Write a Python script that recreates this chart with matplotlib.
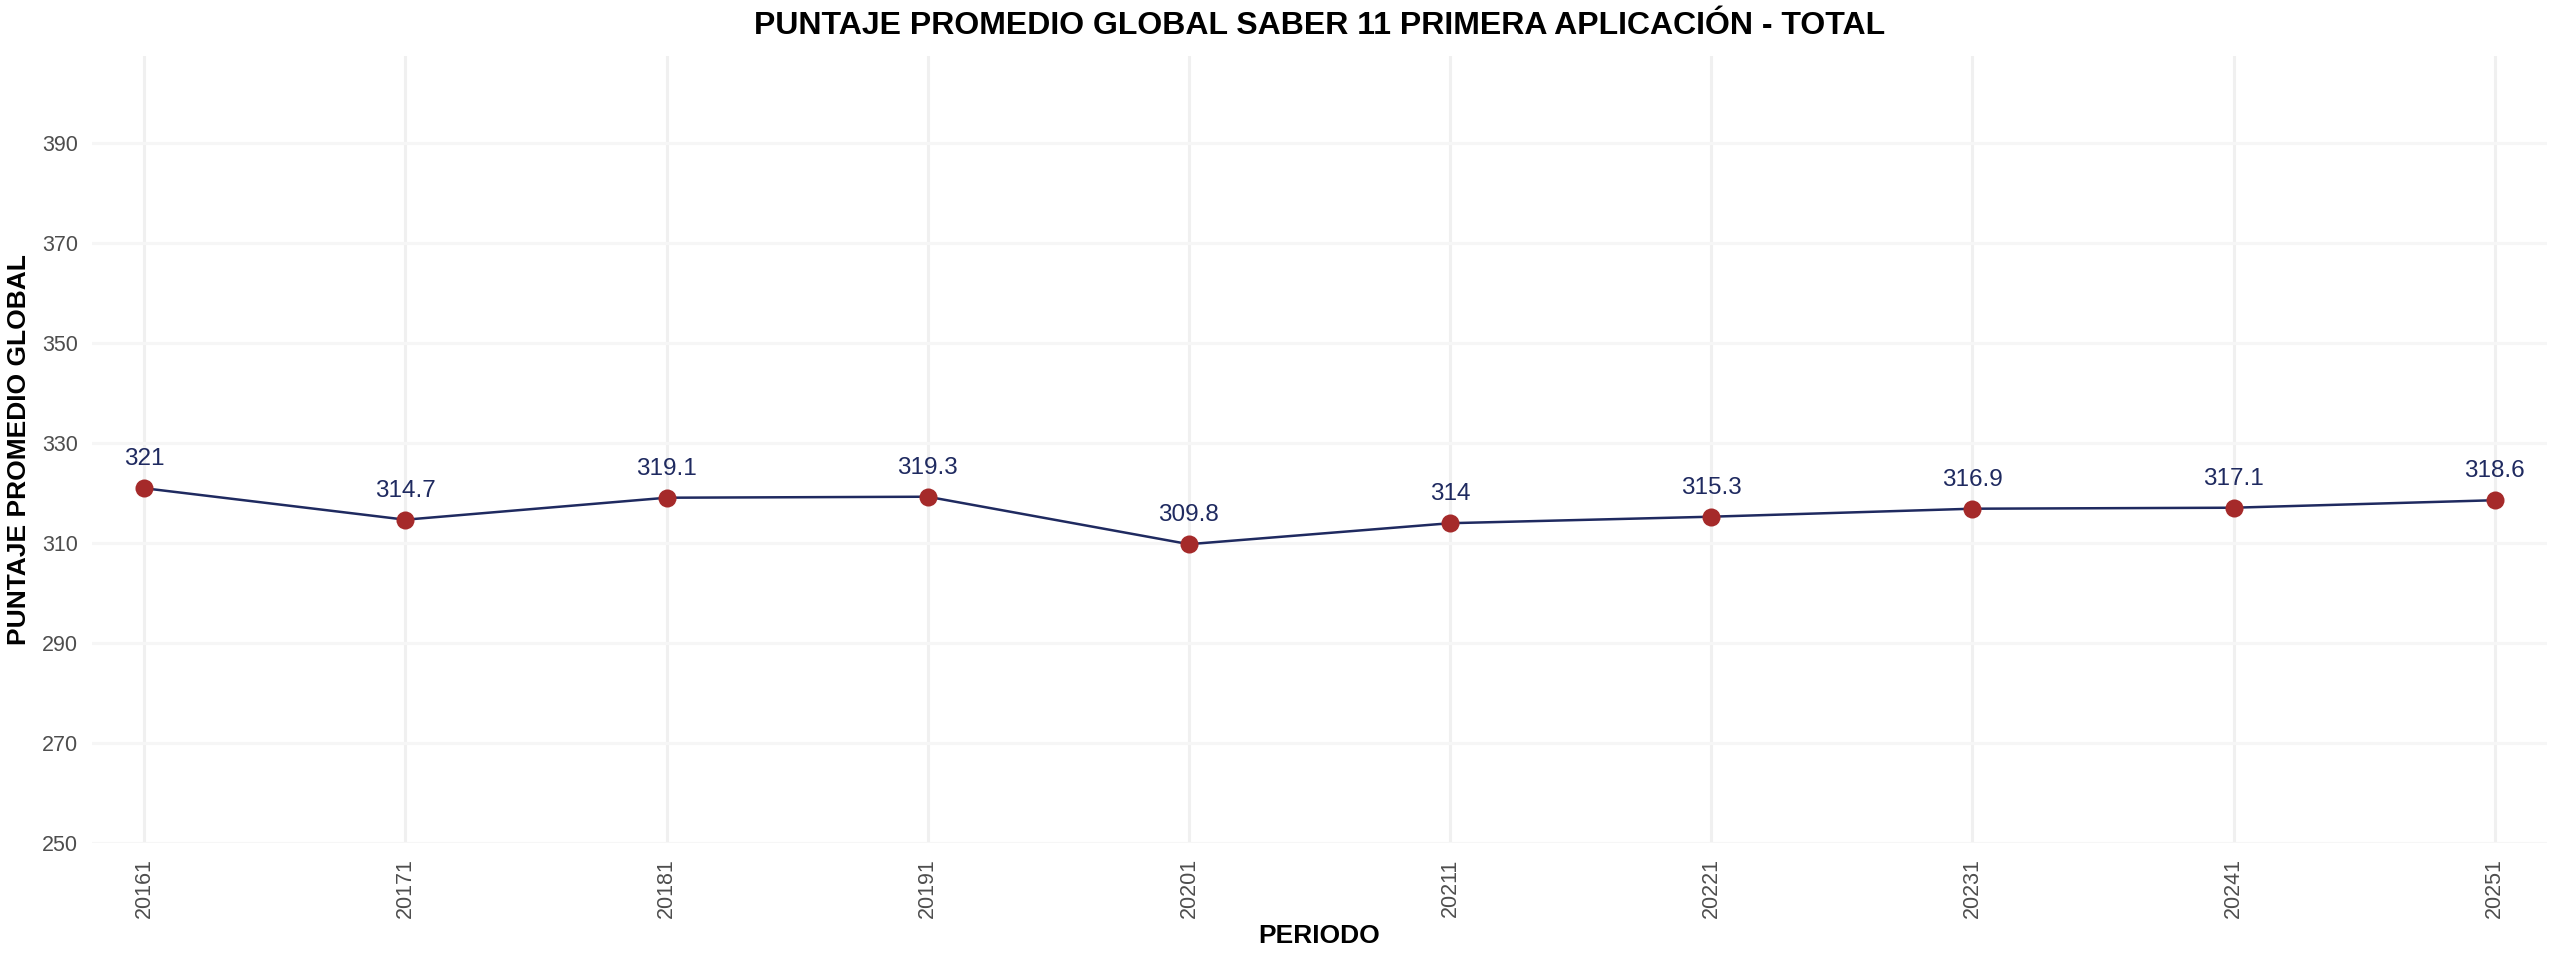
import matplotlib
matplotlib.use('Agg')
import matplotlib.pyplot as plt

# data
periodos = ['20161', '20171', '20181', '20191', '20201', '20211', '20221', '20231', '20241', '20251']
puntajes = [321.0, 314.7, 319.1, 319.3, 309.8, 314.0, 315.3, 316.9, 317.1, 318.6]
etiquetas = ['321', '314.7', '319.1', '319.3', '309.8', '314', '315.3', '316.9', '317.1', '318.6']
y_ticks = [250, 270, 290, 310, 330, 350, 370, 390]

plt.rcParams['font.family'] = ['Liberation Sans', 'DejaVu Sans']

line_color = '#1F2A60'
point_color = '#A52A2A'

W, H = 2560, 960
fig = plt.figure(figsize=(W / 100, H / 100), dpi=100)
left, right, top, bottom = 92, 2547, 56, 843
ax = fig.add_axes([left / W, 1 - bottom / H, (right - left) / W, (bottom - top) / H])

x = list(range(len(periodos)))
ax.plot(x, puntajes, color=line_color, linewidth=1.8, zorder=3)
ax.scatter(x, puntajes, s=13 ** 2, color=point_color, zorder=4, linewidths=0)

for xi, yi, lab in zip(x, puntajes, etiquetas):
    ax.annotate(lab, (xi, yi), xytext=(0, 16.5), textcoords='offset points',
                ha='center', va='baseline', fontsize=17.5, color=line_color, zorder=5)

ax.set_xlim(-0.2, len(periodos) - 1 + 0.2)
ax.set_ylim(250, 407.5)
ax.set_xticks(x)
ax.set_xticklabels(periodos, rotation=90, fontsize=15.5, color='#4D4D4D')
ax.set_yticks(y_ticks)
ax.set_yticklabels([str(v) for v in y_ticks], fontsize=15.5, color='#4D4D4D')
ax.tick_params(axis='both', length=0)
ax.tick_params(axis='x', pad=11)
ax.tick_params(axis='y', pad=10)

# faint grid: vertical lines a bit stronger than horizontal ones
ax.grid(True, axis='x', color='#F0F0F0', linewidth=2.2, zorder=0)
ax.grid(True, axis='y', color='#F6F6F6', linewidth=2.2, zorder=0)
ax.set_axisbelow(True)
for s in ax.spines.values():
    s.set_visible(False)

ax.set_xlabel('PERIODO', fontsize=19, fontweight='bold', labelpad=4)
ax.set_ylabel('PUNTAJE PROMEDIO GLOBAL', fontsize=19, fontweight='bold', labelpad=8)
ax.set_title('PUNTAJE PROMEDIO GLOBAL SABER 11 PRIMERA APLICACIÓN - TOTAL',
             fontsize=23, fontweight='bold', pad=16)

fig.savefig('out.png', dpi=100, facecolor='white')
